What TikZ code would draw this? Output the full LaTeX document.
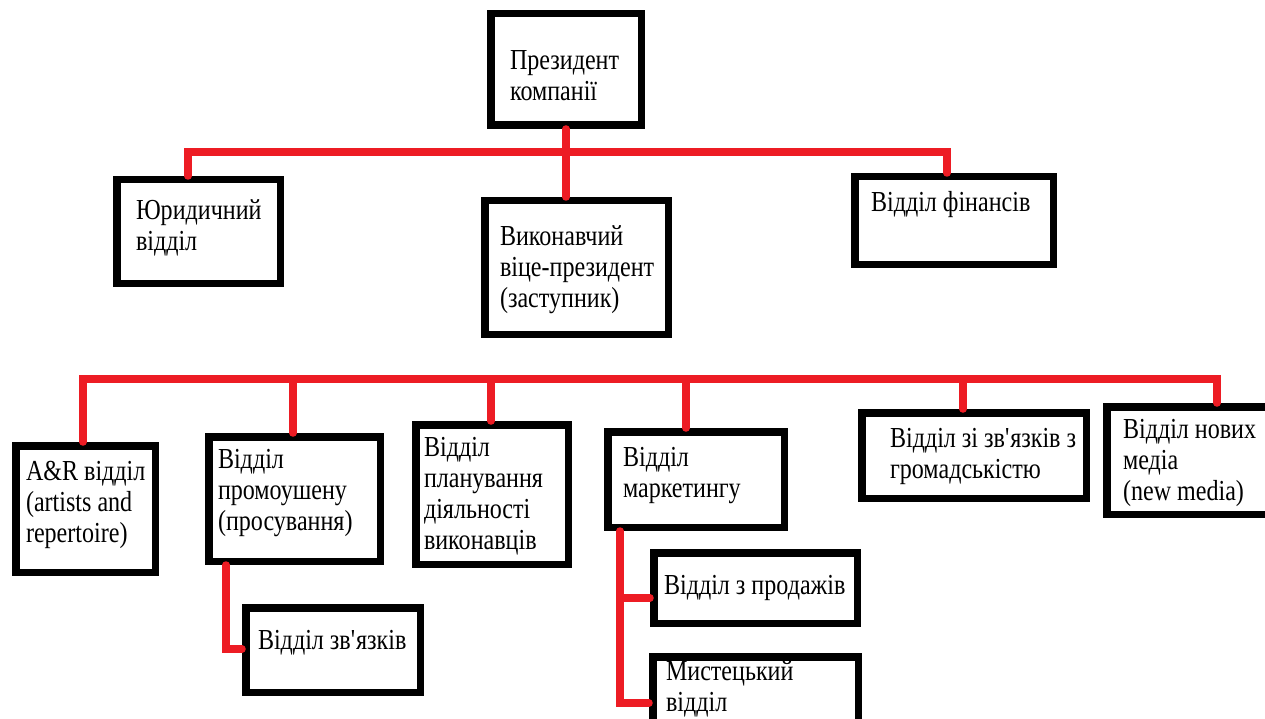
\documentclass[tikz,border=0pt]{standalone}
\usepackage{fontspec}
\setmainfont{Liberation Serif}[FakeStretch=0.83]
\usetikzlibrary{fit}
\definecolor{busred}{RGB}{237,28,36}
\newcommand{\apos}{\textquotesingle}
\begin{document}
\begin{tikzpicture}[x=1pt,y=-1pt,
  orgbox/.style={draw=black, line width=7.5pt, inner sep=-3.75pt, outer sep=0pt},
  bus/.style={draw=busred, line width=7.5pt, line cap=round, line join=miter},
  intobox/.style={shorten >=3.75pt},
  frombox/.style={shorten <=3.75pt},
  % anchored at the baseline of the last line
  caption/.style={anchor=base west, align=left, inner sep=0pt, outer sep=0pt,
    font=\fontsize{29}{31}\selectfont}]
\useasboundingbox (0,0) rectangle (1265,719);
\clip (0,0) rectangle (1265,719);

% ---- boxes (outer corners) ----
\node[orgbox, fit={(487,10) (645,129)}]   (pres)  {};
\node[orgbox, fit={(113,176) (284,287)}]  (jur)   {};
\node[orgbox, fit={(481,197) (672,338)}]  (vp)    {};
\node[orgbox, fit={(851,173) (1057,268)}] (fin)   {};
\node[orgbox, fit={(12,442) (159,576)}]   (ar)    {};
\node[orgbox, fit={(205,433) (384,565)}]  (promo) {};
\node[orgbox, fit={(412,421) (572,568)}]  (plan)  {};
\node[orgbox, fit={(604,428) (788,531)}]  (mark)  {};
\node[orgbox, fit={(858,409) (1090,502)}] (pr)    {};
\node[orgbox, fit={(1103,403) (1295,518)}] (nm)   {};
\node[orgbox, fit={(242,604) (424,696)}]  (link)  {};
\node[orgbox, fit={(650,549) (861,627)}]  (sales) {};
\node[orgbox, fit={(649,653) (862,745)}]  (art)   {};

% ---- texts ----
\node[caption] (t-pres)  at (510,101) {Президент\\компанії};
\node[caption] (t-jur)   at (136,251) {Юридичний\\відділ};
\node[caption] (t-vp)    at (500,307) {Виконавчий\\віце-президент\\(заступник)};
\node[caption] (t-fin)   at (871,212) {Відділ фінансів};
\node[caption] (t-ar)    at (26,542)  {A\&R відділ\\(artists and\\repertoire)};
\node[caption] (t-promo) at (218,530) {Відділ\\промоушену\\(просування)};
\node[caption] (t-plan)  at (424,549) {Відділ\\планування\\діяльності\\виконавців};
\node[caption] (t-mark)  at (623,497) {Відділ\\маркетингу};
\node[caption] (t-pr)    at (890,478) {Відділ зі зв\apos язків з\\громадськістю};
\node[caption] (t-nm)    at (1123,500) {Відділ нових\\медіа\\(new media)};
\node[caption] (t-link)  at (258,649) {Відділ зв\apos язків};
\node[caption] (t-sales) at (664,594) {Відділ з продажів};
\node[caption] (t-art)   at (666,711) {Мистецький\\відділ};

% ---- top level ----
\coordinate (busL) at (188,152);
\coordinate (busR) at (947,152);
\draw[bus, frombox, intobox] (busL |- jur.north) -- (busL) -- (busR) -- (busR |- fin.north);
\draw[bus, frombox, intobox] (pres.south) -- (pres.south |- vp.north);

% ---- department bus ----
\coordinate (depL) at (83,379);
\coordinate (depR) at (1217,379);
\draw[bus, frombox, intobox] (depL |- ar.north) -- (depL) -- (depR) -- (depR |- nm.north);
\coordinate (dPromo) at (293,379);
\coordinate (dPlan)  at (491,379);
\coordinate (dMark)  at (686,379);
\coordinate (dPr)    at (963,379);
\draw[bus, intobox] (dPromo) -- (dPromo |- promo.north);
\draw[bus, intobox] (dPlan)  -- (dPlan |- plan.north);
\draw[bus, intobox] (dMark)  -- (dMark |- mark.north);
\draw[bus, intobox] (dPr)    -- (dPr |- pr.north);

% ---- promotion sub-branch ----
\coordinate (pStem) at (226,649);
\draw[bus, frombox, intobox] (pStem |- promo.south) -- (pStem) -- (pStem -| link.west);

% ---- marketing sub-branch ----
\coordinate (mSales) at (620,598);
\coordinate (mArt)   at (620,703);
\draw[bus, frombox, intobox] (mArt |- mark.south) -- (mArt) -- (mArt -| art.west);
\draw[bus, intobox] (mSales) -- (mSales -| sales.west);
\end{tikzpicture}
\end{document}
